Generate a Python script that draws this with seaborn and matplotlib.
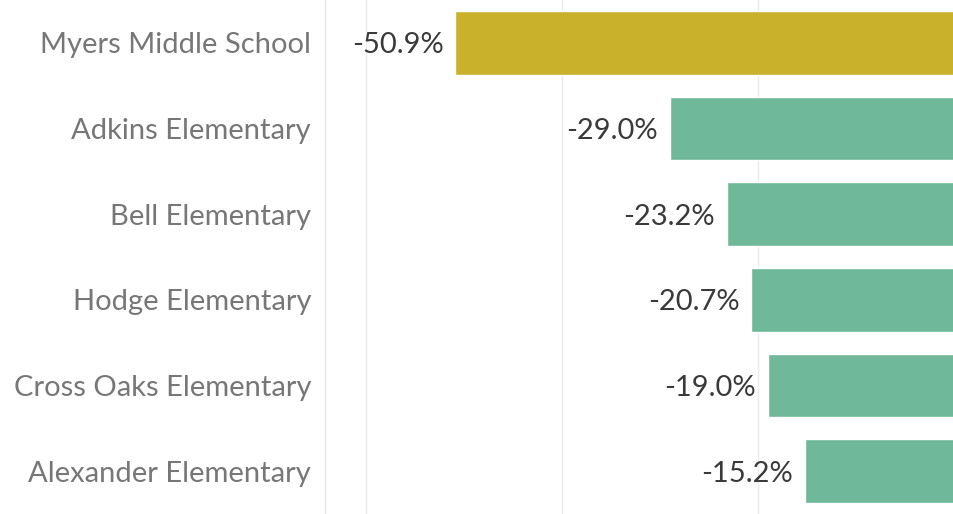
import numpy as np
import pandas as pd
import seaborn as sns
import matplotlib.pyplot as plt

schools = ['Myers Middle School', 'Adkins Elementary', 'Bell Elementary',
           'Hodge Elementary', 'Cross Oaks Elementary', 'Alexander Elementary']
change = [-50.9, -29.0, -23.2, -20.7, -19.0, -15.2]
group = ['middle', 'elem', 'elem', 'elem', 'elem', 'elem']
colors = {'middle': '#C9B12B', 'elem': '#6FB89A'}

df = pd.DataFrame({'school': schools, 'change': change, 'group': group})

sns.set_style('white')
plt.rcParams['font.family'] = ['Lato', 'DejaVu Sans']

fig = plt.figure(figsize=(9.54, 5.14), dpi=100)
ax = fig.add_axes([325 / 954, 0.0, 1 - 325 / 954, 1.0])

sns.barplot(data=df, y='school', x='change', hue='group', palette=colors,
            dodge=False, width=0.745, saturation=1, legend=False, ax=ax, zorder=2)

ax.set_xlim(-64.2, 0)
ax.set_ylim(5.5, -0.5)
for g in [-60, -40, -20]:
    ax.axvline(g, color='#ebebeb', lw=1, zorder=0)

for i, v in enumerate(change):
    ax.text(v - 1.2, i + 0.03, f'{v:.1f}%', ha='right', va='center',
            fontsize=21, color='#3a3a3a', zorder=3)

ax.set_xlabel('')
ax.set_ylabel('')
ax.set_xticks([])
ax.tick_params(axis='y', length=0, pad=10, labelsize=21, labelcolor='#777777')
for s in ['top', 'right', 'bottom']:
    ax.spines[s].set_visible(False)
ax.spines['left'].set_color('#e6e6e6')
ax.spines['left'].set_linewidth(1)

fig.savefig('out.png', dpi=100)
